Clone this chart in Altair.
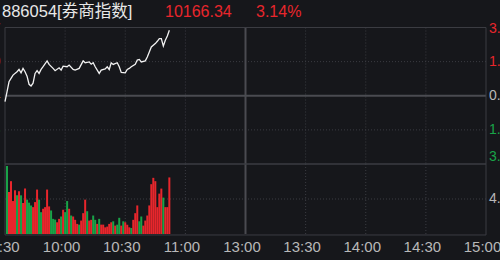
import altair as alt
import pandas as pd

# ---------------- data ----------------
TITLE_CODE = "886054[券商指数]"
TITLE_PRICE = "10166.34"
TITLE_PCT = "3.14%"

line_minutes = [0, 1, 2, 3, 4, 6, 7, 8, 9, 10, 11, 12, 13, 14, 15, 16, 17, 18, 19, 21,
                22, 24, 25, 27, 28, 29, 31, 32, 34, 35, 37, 39, 40, 42, 43, 44, 45, 47, 48, 50,
                51, 52, 53, 54, 56, 57, 58, 60, 61, 62, 63, 65, 66, 67, 68, 70, 71, 72, 73, 75,
                76, 77, 78, 79, 80, 81, 82]
line_pct = [-0.28, 0.19, 0.67, 0.83, 0.99, 1.15, 1.26, 1.10, 1.31, 1.15, 0.94, 0.55, 0.47, 0.60, 1.07, 1.20, 1.07, 1.26, 1.39, 1.67,
            1.50, 1.31, 1.20, 1.34, 1.23, 1.42, 1.39, 1.47, 1.26, 1.23, 1.31, 1.67, 1.58, 1.62, 1.51, 1.58, 1.39, 1.07, 1.23, 1.29,
            1.39, 1.26, 1.58, 1.50, 1.58, 1.39, 1.12, 1.10, 1.26, 1.31, 1.39, 1.51, 1.71, 1.74, 1.62, 1.67, 1.86, 2.10, 2.34, 2.50,
            2.61, 2.74, 2.74, 2.38, 2.66, 2.86, 3.14]

vol_minutes = list(range(1, 83))
vol_values = [8.35, 5.16, 6.49, 4.05, 5.37, 4.75, 5.25, 4.75, 3.80, 5.58,
              4.22, 3.85, 3.51, 3.30, 3.92, 5.46, 4.22, 2.68, 3.10, 3.30,
              5.46, 3.39, 2.89, 1.86, 1.77, 1.44, 1.86, 2.15, 2.98, 2.68,
              4.05, 3.10, 2.27, 2.15, 1.74, 1.24, 1.15, 1.65, 2.56, 4.22,
              2.80, 1.65, 1.74, 2.27, 1.74, 1.24, 1.86, 1.15, 1.15, 0.82,
              0.91, 1.24, 1.44, 1.56, 1.03, 1.15, 1.99, 1.03, 1.56, 1.44,
              1.15, 0.82, 0.74, 1.74, 2.56, 3.51, 1.56, 2.15, 1.03, 1.65,
              2.27, 3.51, 6.12, 6.90, 6.49, 3.30, 4.96, 5.58, 4.47, 3.30,
              3.30, 6.95]
vol_dir = list("GRRRRGRGRR" "GGGRRRGGRR" "RRGGGRRGRG" "GRGRRRGRRR" "GRRGGRGRRR"
               "RRRGRGGRGR" "RRGRRRGGRR" "RRRRRRRRGR" "RR")

time_ticks = [0, 30, 60, 90, 120, 150, 180, 210, 240]
time_labels = ["9:30", "10:00", "10:30", "11:00", "13:00", "13:30", "14:00", "14:30", "15:00"]
pct_ticks = [3.27, 1.635, 0.0, -1.635, -3.27]
pct_labels = ["3.27%", "1.64%", "0.00%", "1.64%", "3.27%"]
pct_dir = ["up", "up", "flat", "down", "down"]
price_labels = ["10179.17", "10018.00", "9856.84", "9695.68", "9534.51"]
vol_tick = [4.3]
vol_tick_label = ["4.30亿"]

# ---------------- style ----------------
BG = "#16171b"
GRID = "#3b3c42"
MID = "#4a4b51"
RED = "#e8262c"
GREEN = "#19a348"
TXT = "#b8b8b8"
FONT = "Liberation Sans"
CJK = "Noto Sans CJK SC"

xs = alt.Scale(domain=[0, 240], range=[5, 486], nice=False, zero=False)
yp = alt.Scale(domain=[-3.27, 3.27], range=[164, 27.5], nice=False, zero=False)
yv = alt.Scale(domain=[0, 8.6], range=[234, 164], nice=False, zero=False)
dir_scale = alt.Scale(domain=["up", "flat", "down", "R", "G"],
                      range=[RED, TXT, GREEN, RED, GREEN])

one = pd.DataFrame({"k": [0]})
line_df = pd.DataFrame({"m": line_minutes, "p": line_pct})
vol_df = pd.DataFrame({"m": vol_minutes, "v": vol_values, "d": vol_dir})
time_df = pd.DataFrame({"m": time_ticks, "lab": time_labels})
pct_df = pd.DataFrame({"p": pct_ticks, "lab": pct_labels, "d": pct_dir, "price": price_labels})
vgrid_df = pd.DataFrame({"m": [30, 60, 90, 150, 180, 210]})
hgrid_df = pd.DataFrame({"p": [1.635, -1.635]})
voltick_df = pd.DataFrame({"v": vol_tick, "lab": vol_tick_label})

X = lambda f: alt.X(f, scale=xs, axis=None)

# vertical dotted grid (price panel + volume panel)
vgrid_p = alt.Chart(vgrid_df).mark_rule(color=GRID, strokeDash=[1, 2], strokeWidth=1).encode(
    x=X("m:Q"), y=alt.Y(datum=3.27, scale=yp, axis=None), y2=alt.Y2(datum=-3.27))
vgrid_v = alt.Chart(vgrid_df).mark_rule(color=GRID, strokeDash=[1, 2], strokeWidth=1).encode(
    x=X("m:Q"), y=alt.Y(datum=8.6, scale=yv, axis=None), y2=alt.Y2(datum=0))
hgrid_p = alt.Chart(hgrid_df).mark_rule(color=GRID, strokeDash=[1, 2], strokeWidth=1).encode(
    x=alt.X(datum=0, scale=xs, axis=None), x2=alt.X2(datum=240),
    y=alt.Y("p:Q", scale=yp, axis=None))
hgrid_v = alt.Chart(voltick_df).mark_rule(color=GRID, strokeDash=[1, 2], strokeWidth=1).encode(
    x=alt.X(datum=0, scale=xs, axis=None), x2=alt.X2(datum=240),
    y=alt.Y("v:Q", scale=yv, axis=None))

# solid centre lines
mid_v_p = alt.Chart(one).mark_rule(color=MID, strokeWidth=2).encode(
    x=alt.X(datum=120, scale=xs, axis=None), y=alt.Y(datum=3.27, scale=yp, axis=None), y2=alt.Y2(datum=-3.27))
mid_v_v = alt.Chart(one).mark_rule(color=MID, strokeWidth=2).encode(
    x=alt.X(datum=120, scale=xs, axis=None), y=alt.Y(datum=8.6, scale=yv, axis=None), y2=alt.Y2(datum=0))
zero_line = alt.Chart(one).mark_rule(color=MID, strokeWidth=2).encode(
    x=alt.X(datum=0, scale=xs, axis=None), x2=alt.X2(datum=240), y=alt.Y(datum=0, scale=yp, axis=None))

# frames
frame_p = alt.Chart(one).mark_rect(fillOpacity=0, stroke=GRID, strokeWidth=1).encode(
    x=alt.X(datum=0, scale=xs, axis=None), x2=alt.X2(datum=240),
    y=alt.Y(datum=3.27, scale=yp, axis=None), y2=alt.Y2(datum=-3.27))
frame_v = alt.Chart(one).mark_rect(fillOpacity=0, stroke=GRID, strokeWidth=1).encode(
    x=alt.X(datum=0, scale=xs, axis=None), x2=alt.X2(datum=240),
    y=alt.Y(datum=8.6, scale=yv, axis=None), y2=alt.Y2(datum=-0.12))

# volume bars
bars = alt.Chart(vol_df).transform_calculate(
    m0="datum.m - 0.5", m1="datum.m + 0.5"
).mark_rect(strokeWidth=0).encode(
    x=X("m0:Q"), x2="m1:Q",
    y=alt.Y("v:Q", scale=yv, axis=None), y2=alt.Y2(datum=0),
    color=alt.Color("d:N", scale=dir_scale, legend=None))

# price line
line = alt.Chart(line_df).mark_line(color="#f2f2f2", strokeWidth=1.3).encode(
    x=X("m:Q"), y=alt.Y("p:Q", scale=yp, axis=None))

# axis labels
def time_text(df, dx):
    return alt.Chart(df).mark_text(font=FONT, fontSize=15, color=TXT, align="center",
                                   baseline="middle", dx=dx).encode(
        x=X("m:Q"), y=alt.value(247), text="lab:N")

time_first = time_text(time_df.iloc[0:1], 0)
time_rest = time_text(time_df.iloc[1:], -3.5)

pct_mid = pct_df.iloc[1:4]
pct_top = pct_df.iloc[0:1]
pct_bot = pct_df.iloc[4:5]

def right_labels(df, baseline, dy):
    return alt.Chart(df).mark_text(font=FONT, fontSize=14, align="left", baseline=baseline, dy=dy).encode(
        x=alt.value(489), y=alt.Y("p:Q", scale=yp, axis=None), text="lab:N",
        color=alt.Color("d:N", scale=dir_scale, legend=None))

def left_labels(df, baseline, dy):
    return alt.Chart(df).mark_text(font=FONT, fontSize=14, align="right", baseline=baseline, dy=dy).encode(
        x=alt.value(0.5), y=alt.Y("p:Q", scale=yp, axis=None), text="price:N",
        color=alt.Color("d:N", scale=dir_scale, legend=None))

r_top = right_labels(pct_top, "middle", 1)
r_mid = right_labels(pct_mid, "middle", 0)
r_bot = right_labels(pct_bot, "bottom", 0)
l_top = left_labels(pct_top, "middle", 1)
l_mid = left_labels(pct_mid, "middle", 0)
l_bot = left_labels(pct_bot, "bottom", 0)

vol_r = alt.Chart(voltick_df).mark_text(font=FONT, fontSize=14, align="left", baseline="middle",
                                        color=TXT).encode(
    x=alt.value(489), y=alt.Y("v:Q", scale=yv, axis=None), text="lab:N")
vol_l = alt.Chart(voltick_df).mark_text(font=FONT + ", " + CJK, fontSize=14, align="right", baseline="middle",
                                        color=TXT).encode(
    x=alt.value(0.5), y=alt.Y("v:Q", scale=yv, axis=None), text="lab:N")

# title row
title_code = alt.Chart(one).mark_text(font=FONT + ", " + CJK, fontSize=16.5, color="#e8e8e8",
                                      align="left", baseline="middle", text=TITLE_CODE).encode(
    x=alt.value(2), y=alt.value(12))
title_price = alt.Chart(one).mark_text(font=FONT, fontSize=16, color=RED,
                                       align="left", baseline="middle", text=TITLE_PRICE).encode(
    x=alt.value(165), y=alt.value(12))
title_pct = alt.Chart(one).mark_text(font=FONT, fontSize=16, color=RED,
                                     align="left", baseline="middle", text=TITLE_PCT).encode(
    x=alt.value(256), y=alt.value(12))

chart = alt.layer(
    vgrid_p, vgrid_v, hgrid_p, hgrid_v, mid_v_p, mid_v_v, zero_line, frame_p, frame_v,
    bars, line, time_first, time_rest, r_top, r_mid, r_bot, l_top, l_mid, l_bot, vol_r, vol_l,
    title_code, title_price, title_pct
).resolve_scale(y="independent").properties(
    width=500, height=260, padding=0, background=BG,
    autosize=alt.AutoSizeParams(type="none")
).configure_view(stroke=None)

chart.save("out.html", embed_options={"renderer": "svg", "actions": False})
